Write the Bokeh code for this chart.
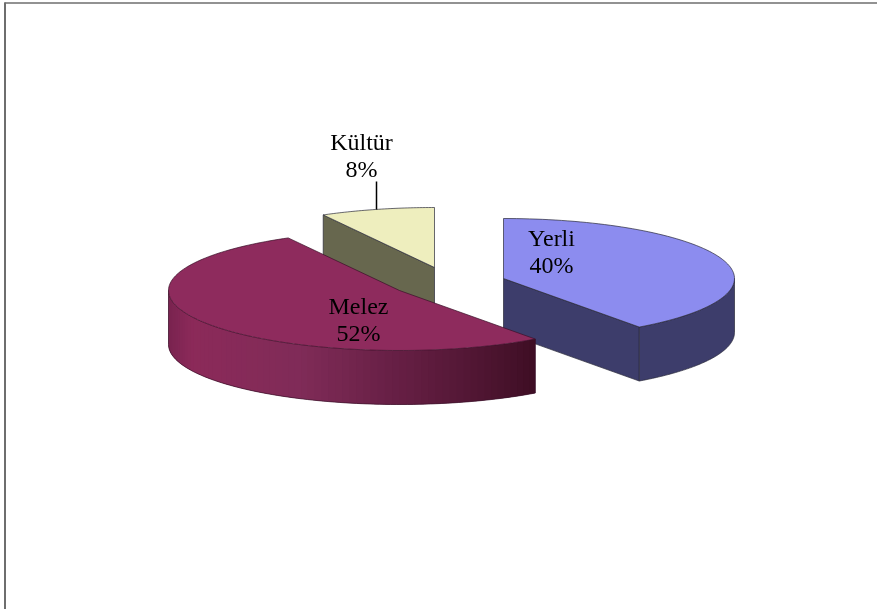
import numpy as np
from bokeh.plotting import figure
from bokeh.models import ColumnDataSource
from bokeh.core.properties import value
from bokeh.embed import file_html
from bokeh.resources import INLINE

categories = ["Yerli", "Melez", "Kültür"]
shares = [40, 52, 8]
top_colors = ["#8C8CEF", "#8E2B5D", "#EEEEBE"]
wall_colors = ["#3D3D6B", "#7E2852", "#67674E"]
centers_x = [503, 399, 434]
centers_y = [278, 290, 267]
label_x = [551, 358, 361]
label_y = [237, 305, 141]

RX, RY, DEPTH = 231, 60, 54
LINE_GAP = 27
W, H = 877, 609

stops = np.cumsum([0] + shares) * 3.6
starts, ends = stops[:-1], stops[1:]


def rim(i, a0, a1, n=90, drop=0):
    t = np.radians(np.linspace(a0, a1, n))
    return centers_x[i] + RX * np.sin(t), centers_y[i] - RY * np.cos(t) + drop


p = figure(width=W, height=H, x_range=(0, W), y_range=(H, 0),
           output_backend="svg", toolbar_location=None, min_border=0,
           margin=0, outline_line_color=None,
           styles={"position": "fixed", "left": "0px", "top": "0px"},
           background_fill_color="white", border_fill_color="white")
p.axis.visible = False
p.grid.visible = False

frame = "#6E6E6E"
p.line([4, W], [2.5, 2.5], line_color=frame, line_width=1.5)
p.line([4.5, 4.5], [2, H], line_color=frame, line_width=2)

EDGE = dict(line_color="#2A2A3A", line_width=0.7)

# Kültür
k = 2
ex, ey = rim(k, starts[k], starts[k], n=1)
p.patch([centers_x[k], ex[0], ex[0], centers_x[k]],
        [centers_y[k], ey[0], ey[0] + DEPTH, centers_y[k] + DEPTH],
        fill_color=wall_colors[k], **EDGE)
ax, ay = rim(k, starts[k], ends[k], n=40)
p.patch(np.r_[centers_x[k], ax], np.r_[centers_y[k], ay], fill_color=top_colors[k], **EDGE)

# Yerli
y = 0
ex, ey = rim(y, ends[y], ends[y], n=1)
p.patch([centers_x[y], ex[0], ex[0], centers_x[y]],
        [centers_y[y], ey[0], ey[0] + DEPTH, centers_y[y] + DEPTH],
        fill_color=wall_colors[y], **EDGE)
ox, oy = rim(y, 90, ends[y])
bx, by = rim(y, ends[y], 90, drop=DEPTH)
p.patch(np.r_[ox, bx], np.r_[oy, by], fill_color=wall_colors[y], **EDGE)
ax, ay = rim(y, starts[y], ends[y])
p.patch(np.r_[centers_x[y], ax], np.r_[centers_y[y], ay], fill_color=top_colors[y], **EDGE)

# Melez side with a shaded band from left to right
m = 1
shade_pos = [0.0, 0.06, 0.35, 0.6, 0.8, 1.0]
shade_rgb = np.array([[122, 36, 80], [140, 42, 90], [128, 44, 88],
                      [104, 32, 70], [84, 24, 54], [62, 14, 36]])
N = 70
edges = np.linspace(270, starts[m], N + 1)
span_full = RX + RX * np.sin(np.radians(starts[m]))
xs, ys, cols = [], [], []
for i in range(N):
    a0 = edges[i]
    a1 = edges[min(i + 2, N)]
    tx, ty = rim(m, a0, a1, n=4)
    bx, by = rim(m, a1, a0, n=4, drop=DEPTH)
    xs.append(np.r_[tx, bx])
    ys.append(np.r_[ty, by])
    f = (tx[0] - (centers_x[m] - RX)) / span_full
    c = [int(np.interp(f, shade_pos, shade_rgb[:, j])) for j in range(3)]
    cols.append("#%02X%02X%02X" % tuple(c))
p.patches(xs, ys, fill_color=cols, line_color=None)
ox, oy = rim(m, 270, starts[m])
p.line(ox, oy + DEPTH, line_color="#3A1028", line_width=0.7)
p.line([ox[0], ox[0]], [oy[0], oy[0] + DEPTH], line_color="#3A1028", line_width=0.7)
p.line([ox[-1], ox[-1]], [oy[-1], oy[-1] + DEPTH], line_color="#3A1028", line_width=0.7)
ax, ay = rim(m, starts[m], ends[m], n=140)
p.patch(np.r_[centers_x[m], ax], np.r_[centers_y[m], ay],
        fill_color=top_colors[m], line_color="#3A1028", line_width=0.7)

# Leader line for Kültür
lead_x = label_x[k] + 15
p.line([lead_x, lead_x], [label_y[k] + 40, centers_y[k] - RY * np.cos(np.arcsin((lead_x - centers_x[k]) / RX))],
       line_color="black", line_width=1.5)

src = ColumnDataSource(dict(
    x=label_x + label_x,
    y=label_y + [v + LINE_GAP for v in label_y],
    t=categories + [f"{s}%" for s in shares],
))
p.text("x", "y", text="t", source=src, text_font=value("Liberation Serif"),
       text_font_size="24px", text_color="black", text_align="center", text_baseline="middle")

open("out.html", "w").write(file_html(p, INLINE))
